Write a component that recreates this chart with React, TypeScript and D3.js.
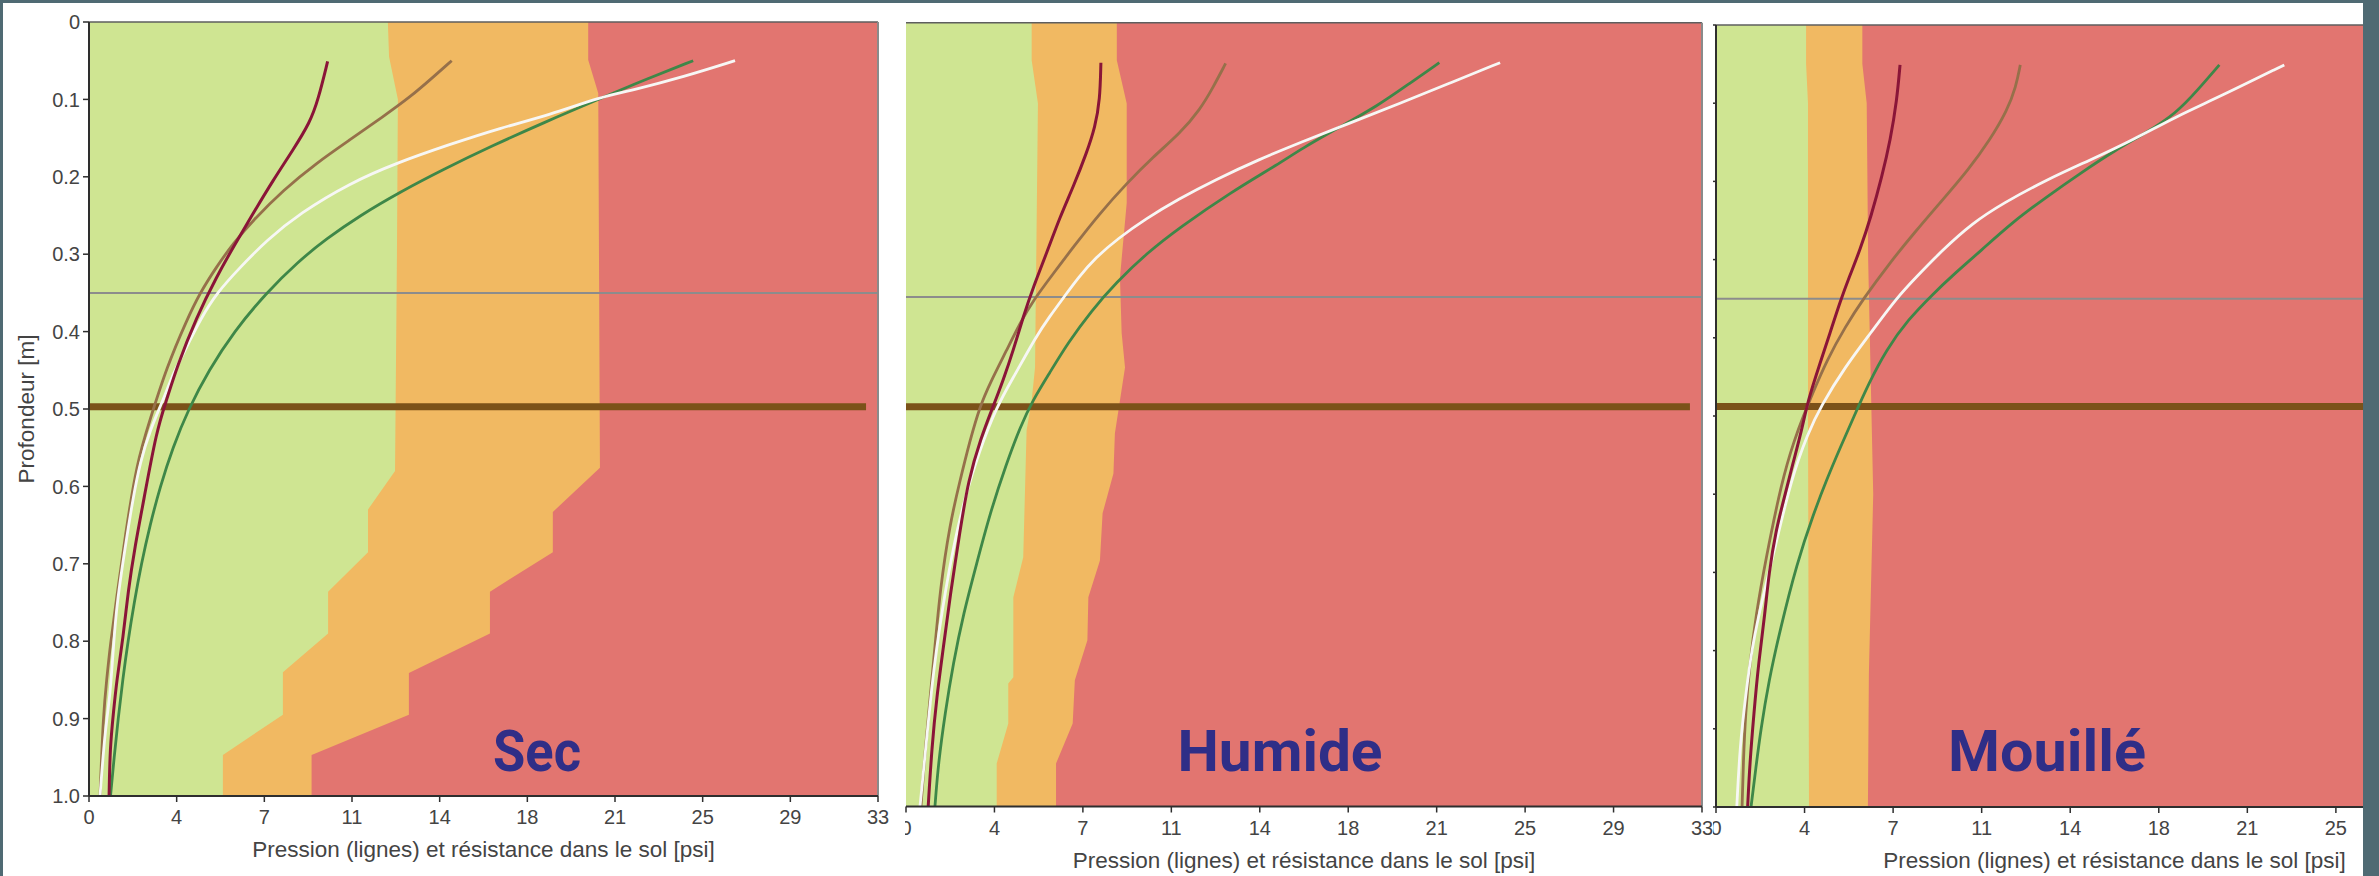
import React from "react";
import * as d3 from "d3";

type Pt = [number, number]; // [pressure psi, depth m]

// ---------- DATA ----------
const xTickLabels = ["0", "4", "7", "11", "14", "18", "21", "25", "29", "33"];
const yTickLabels = ["0", "0.1", "0.2", "0.3", "0.4", "0.5", "0.6", "0.7", "0.8", "0.9", "1.0"];
const conditions = ["Sec", "Humide", "Mouillé"];
const xTitle = "Pression (lignes) et résistance dans le sol [psi]";
const yTitle = "Profondeur [m]";
const X_MAX = 33;
const referenceDepth = 0.35;
const compactionDepth = [0.497, 0.49, 0.488];
const compactionExtent = 32.5;

// Zone boundaries: green/orange and orange/red
const secGreenOrange: Pt[] = [[12.5, 0], [12.55, 0.045], [12.92, 0.1], [12.88, 0.3], [12.8, 0.58], [11.67, 0.63], [11.67, 0.685], [10.0, 0.736], [10.0, 0.79], [8.11, 0.84], [8.11, 0.895], [5.6, 0.947], [5.6, 1.0]];
const secOrangeRed: Pt[] = [[20.88, 0], [20.88, 0.049], [21.3, 0.092], [21.37, 0.576], [19.4, 0.633], [19.4, 0.685], [16.77, 0.736], [16.77, 0.79], [13.38, 0.841], [13.38, 0.895], [9.31, 0.947], [9.31, 1.0]];
const humGreenOrange: Pt[] = [[5.21, 0], [5.21, 0.048], [5.47, 0.103], [5.4, 0.3], [5.35, 0.44], [5.21, 0.482], [5.0, 0.52], [4.86, 0.682], [4.45, 0.733], [4.45, 0.835], [4.24, 0.843], [4.24, 0.894], [3.76, 0.945], [3.76, 1.0]];
const humOrangeRed: Pt[] = [[8.74, 0], [8.74, 0.048], [9.15, 0.103], [9.15, 0.23], [8.87, 0.325], [8.94, 0.396], [9.08, 0.44], [8.87, 0.482], [8.66, 0.524], [8.6, 0.575], [8.15, 0.626], [8.04, 0.686], [7.56, 0.733], [7.52, 0.788], [7.0, 0.839], [6.91, 0.894], [6.22, 0.945], [6.22, 1.0]];
const mouGreenOrange: Pt[] = [[3.73, 0], [3.73, 0.05], [3.81, 0.1], [3.81, 0.5], [3.85, 1.0]];
const mouOrangeRed: Pt[] = [[6.06, 0], [6.06, 0.05], [6.24, 0.1], [6.3, 0.3], [6.51, 0.6], [6.33, 0.83], [6.29, 1.0]];

// Pressure curves
const secCrimson: Pt[] = [[9.98, 0.051], [9.59, 0.1], [9.24, 0.13], [8.54, 0.165], [7.71, 0.204], [6.87, 0.247], [6.03, 0.291], [5.34, 0.329], [4.5, 0.381], [3.67, 0.446], [3.25, 0.488], [2.83, 0.527], [2.27, 0.621], [1.92, 0.678], [1.64, 0.734], [1.43, 0.795], [1.16, 0.85], [1.02, 0.893], [0.88, 0.937], [0.84, 1.0]];
const secBrown: Pt[] = [[15.17, 0.05], [14.4, 0.071], [13.43, 0.097], [12.31, 0.122], [10.92, 0.152], [9.52, 0.182], [8.13, 0.217], [6.87, 0.256], [6.03, 0.286], [5.34, 0.316], [4.64, 0.35], [4.09, 0.385], [3.25, 0.446], [2.55, 0.514], [1.99, 0.57], [1.51, 0.665], [1.16, 0.743], [0.88, 0.807], [0.74, 0.85], [0.6, 0.893], [0.46, 1.0]];
const secWhite: Pt[] = [[27.02, 0.05], [24.86, 0.071], [22.76, 0.088], [21.37, 0.097], [19.28, 0.12], [17.19, 0.137], [15.1, 0.158], [12.87, 0.182], [10.92, 0.208], [8.82, 0.247], [7.43, 0.282], [6.32, 0.317], [5.34, 0.35], [4.64, 0.385], [4.09, 0.42], [3.53, 0.453], [3.11, 0.488], [2.55, 0.527], [2.13, 0.57], [1.85, 0.614], [1.58, 0.665], [1.16, 0.751], [1.02, 0.807], [0.88, 0.872], [0.67, 0.915], [0.46, 1.0]];
const secGreen: Pt[] = [[25.27, 0.05], [23.22, 0.075], [21.3, 0.1], [19.02, 0.13], [16.86, 0.16], [14.85, 0.19], [12.99, 0.22], [11.34, 0.25], [9.93, 0.28], [8.73, 0.31], [7.41, 0.35], [6.06, 0.4], [5.01, 0.45], [4.16, 0.5], [3.5, 0.55], [2.98, 0.6], [2.55, 0.65], [2.19, 0.7], [1.89, 0.75], [1.63, 0.8], [1.41, 0.85], [1.22, 0.9], [1.05, 0.95], [0.9, 1.0]];

const humCrimson: Pt[] = [[8.08, 0.051], [8.04, 0.099], [7.84, 0.133], [7.49, 0.166], [6.94, 0.209], [6.38, 0.248], [5.83, 0.294], [5.28, 0.337], [4.86, 0.375], [4.45, 0.418], [4.03, 0.456], [3.62, 0.489], [3.1, 0.53], [2.58, 0.584], [2.24, 0.648], [1.82, 0.733], [1.55, 0.797], [1.27, 0.861], [1.07, 0.925], [0.92, 1.0]];
const humBrown: Pt[] = [[13.25, 0.052], [12.74, 0.082], [12.19, 0.111], [11.36, 0.141], [10.25, 0.171], [9.15, 0.205], [8.04, 0.243], [6.94, 0.286], [6.11, 0.32], [5.28, 0.354], [4.73, 0.383], [4.17, 0.418], [3.48, 0.46], [3.07, 0.489], [2.65, 0.533], [2.24, 0.584], [1.82, 0.639], [1.41, 0.724], [1.2, 0.797], [1.0, 0.861], [0.8, 0.925], [0.62, 1.0]];
const humWhite: Pt[] = [[24.63, 0.051], [22.55, 0.077], [20.48, 0.103], [18.41, 0.128], [16.4, 0.152], [14.6, 0.175], [12.85, 0.2], [11.3, 0.225], [9.95, 0.25], [8.8, 0.275], [7.85, 0.3], [7.15, 0.325], [6.55, 0.35], [5.95, 0.375], [5.4, 0.4], [4.5, 0.45], [3.75, 0.49], [3.0, 0.55], [2.5, 0.6], [2.1, 0.65], [1.78, 0.7], [1.5, 0.75], [1.26, 0.8], [1.06, 0.85], [0.9, 0.9], [0.74, 0.95], [0.58, 1.0]];
const humGreen: Pt[] = [[22.11, 0.051], [20.9, 0.077], [19.51, 0.107], [17.99, 0.133], [16.33, 0.162], [15.51, 0.179], [13.43, 0.217], [11.36, 0.261], [9.98, 0.294], [8.7, 0.332], [7.7, 0.367], [6.7, 0.409], [5.95, 0.447], [5.25, 0.482], [4.73, 0.516], [4.17, 0.562], [3.48, 0.626], [2.93, 0.69], [2.38, 0.754], [1.96, 0.817], [1.62, 0.881], [1.34, 0.945], [1.2, 1.0]];

const mouCrimson: Pt[] = [[7.62, 0.051], [7.49, 0.096], [7.22, 0.147], [6.87, 0.194], [6.42, 0.245], [5.96, 0.288], [5.52, 0.322], [5.16, 0.352], [4.72, 0.394], [4.26, 0.437], [3.81, 0.48], [3.55, 0.518], [3.19, 0.56], [2.83, 0.604], [2.48, 0.646], [2.19, 0.701], [2.03, 0.752], [1.76, 0.816], [1.57, 0.88], [1.4, 0.944], [1.31, 1.0]];
const mouBrown: Pt[] = [[12.6, 0.051], [12.42, 0.079], [12.06, 0.109], [11.34, 0.147], [10.45, 0.185], [9.37, 0.224], [8.2, 0.266], [7.2, 0.304], [6.1, 0.35], [5.35, 0.386], [4.6, 0.428], [4.0, 0.471], [3.62, 0.5], [3.25, 0.53], [2.73, 0.582], [2.03, 0.688], [1.67, 0.752], [1.4, 0.816], [1.22, 0.88], [1.13, 0.944], [1.08, 1.0]];
const mouWhite: Pt[] = [[23.53, 0.051], [20.84, 0.092], [19.05, 0.117], [17.26, 0.147], [15.47, 0.173], [13.68, 0.198], [11.88, 0.228], [10.63, 0.253], [9.37, 0.288], [8.3, 0.322], [7.45, 0.35], [6.4, 0.394], [5.35, 0.437], [4.35, 0.487], [3.8, 0.522], [3.1, 0.582], [2.45, 0.668], [1.94, 0.731], [1.49, 0.795], [1.22, 0.859], [0.99, 0.923], [0.86, 1.0]];
const mouGreen: Pt[] = [[20.84, 0.051], [19.95, 0.083], [19.05, 0.113], [17.8, 0.138], [16.54, 0.16], [15.11, 0.189], [13.68, 0.22], [12.24, 0.253], [10.99, 0.288], [9.73, 0.322], [9.02, 0.343], [7.94, 0.377], [7.04, 0.416], [6.33, 0.458], [5.72, 0.5], [5.15, 0.54], [4.6, 0.58], [4.05, 0.624], [3.35, 0.688], [2.65, 0.774], [2.19, 0.838], [1.85, 0.902], [1.65, 0.95], [1.45, 1.0]];

const zoneData = [
  [secGreenOrange, secOrangeRed],
  [humGreenOrange, humOrangeRed],
  [mouGreenOrange, mouOrangeRed],
];
const curveData = [
  { brown: secBrown, green: secGreen, white: secWhite, crimson: secCrimson },
  { brown: humBrown, green: humGreen, white: humWhite, crimson: humCrimson },
  { brown: mouBrown, green: mouGreen, white: mouWhite, crimson: mouCrimson },
];

// ---------- LAYOUT / STYLE ----------
const W = 2379;
const H = 876;
const COLORS = {
  frame: "#4f6a73",
  green: "#cfe592",
  orange: "#f1b962",
  red: "#e27570",
  crimson: "#8a1538",
  brown: "#96704a",
  white: "#f7f7f5",
  lineGreen: "#3e8748",
  compaction: "#7b5219",
  refLine: "#8c8c8c",
  axis: "#2e2e2e",
  text: "#444444",
  label: "#2f2e87",
};
const FONT = "'Liberation Sans', Arial, sans-serif";

const panels = [
  { left: 89, right: 878, top: 22, bottom: 796, clipL: 0, clipR: 900, yLabels: true, leftAxis: true, labelX: 537, labelW: 88 },
  { left: 906, right: 1702, top: 22.7, bottom: 806.5, clipL: 905, clipR: 1714, yLabels: false, leftAxis: false, labelX: 1280, labelW: 205 },
  { left: 1716, right: 2513, top: 25, bottom: 807, clipL: 1713, clipR: 2363, yLabels: false, leftAxis: true, labelX: 2047, labelW: 198 },
];

const xTickValues = xTickLabels.map((_, i) => (i * X_MAX) / (xTickLabels.length - 1));
const yTickValues = yTickLabels.map(Number);

function Panel({ idx }: { idx: number }) {
  const p = panels[idx];
  const x = d3.scaleLinear().domain([0, X_MAX]).range([p.left, p.right]);
  const y = d3.scaleLinear().domain([0, 1]).range([p.top, p.bottom]);
  const [b1, b2] = zoneData[idx];
  const curves = curveData[idx];

  const area = d3
    .area<Pt>()
    .y((d) => y(d[1]))
    .x0((d) => x(d[0]))
    .x1(() => x(X_MAX))
    .curve(d3.curveLinear);
  const line = d3
    .line<Pt>()
    .x((d) => x(d[0]))
    .y((d) => y(d[1]))
    .curve(d3.curveBasis);

  const clipId = `clip-${idx}`;
  const plotClipId = `plotclip-${idx}`;
  const visRight = Math.min(p.right, p.clipR);
  const xMid = (p.left + p.right) / 2;
  const visibleTicks = xTickValues
    .map((v, i) => ({ v, label: xTickLabels[i] }))
    .filter((t) => x(t.v) <= p.clipR);

  return (
    <g>
      <defs>
        <clipPath id={clipId}>
          <rect x={p.clipL} y={0} width={p.clipR - p.clipL} height={H} />
        </clipPath>
        <clipPath id={plotClipId}>
          <rect x={p.left} y={p.top} width={visRight - p.left} height={p.bottom - p.top} />
        </clipPath>
      </defs>
      <g clipPath={`url(#${clipId})`}>
        <g clipPath={`url(#${plotClipId})`}>
          <rect x={p.left} y={p.top} width={x(X_MAX) - p.left} height={p.bottom - p.top} fill={COLORS.green} />
          <path d={area(b1) || ""} fill={COLORS.orange} />
          <path d={area(b2) || ""} fill={COLORS.red} />
          <line x1={x(0)} x2={x(X_MAX)} y1={y(referenceDepth)} y2={y(referenceDepth)} stroke={COLORS.refLine} strokeWidth={2} />
          <line x1={x(0)} x2={x(compactionExtent)} y1={y(compactionDepth[idx])} y2={y(compactionDepth[idx])} stroke={COLORS.compaction} strokeWidth={7} />
          <path d={line(curves.brown) || ""} fill="none" stroke={COLORS.brown} strokeWidth={2.8} />
          <path d={line(curves.green) || ""} fill="none" stroke={COLORS.lineGreen} strokeWidth={2.8} />
          <path d={line(curves.white) || ""} fill="none" stroke={COLORS.white} strokeWidth={2.8} />
          <path d={line(curves.crimson) || ""} fill="none" stroke={COLORS.crimson} strokeWidth={3} />
          <text
            x={p.labelX}
            y={770.5}
            textAnchor="middle"
            fontFamily="Roboto, 'Open Sans', sans-serif"
            fontWeight={700}
            fontSize={58}
            fill={COLORS.label}
            textLength={p.labelW}
            lengthAdjust="spacingAndGlyphs"
          >
            {conditions[idx]}
          </text>
        </g>
        {/* frame */}
        <line x1={p.left} x2={visRight} y1={p.top} y2={p.top} stroke="#5e5e5e" strokeWidth={1.6} />
        {p.right <= p.clipR && (
          <line x1={p.right} x2={p.right} y1={p.top} y2={p.bottom} stroke="#8a8a8a" strokeWidth={2} />
        )}
        <line x1={p.left} x2={visRight} y1={p.bottom} y2={p.bottom} stroke={COLORS.axis} strokeWidth={2} />
        {p.leftAxis && (
          <line x1={p.left} x2={p.left} y1={p.top} y2={p.bottom} stroke={COLORS.axis} strokeWidth={2} />
        )}
        {/* x ticks */}
        {visibleTicks.map((t, i) => (
          <g key={`xt${i}`}>
            <line x1={x(t.v)} x2={x(t.v)} y1={p.bottom} y2={p.bottom + 6} stroke={COLORS.axis} strokeWidth={1.5} />
            <text x={x(t.v)} y={p.bottom + 28} textAnchor="middle" fontFamily={FONT} fontSize={20} fill={COLORS.text}>
              {t.label}
            </text>
          </g>
        ))}
        {/* y ticks */}
        {p.leftAxis &&
          yTickValues.map((v, i) => (
            <g key={`yt${i}`}>
              <line x1={p.left - 6} x2={p.left} y1={y(v)} y2={y(v)} stroke={COLORS.axis} strokeWidth={1.5} />
              {p.yLabels && (
                <text x={p.left - 9} y={y(v)} dy="0.36em" textAnchor="end" fontFamily={FONT} fontSize={20} fill={COLORS.text}>
                  {yTickLabels[i]}
                </text>
              )}
            </g>
          ))}
        <text x={xMid} y={p.bottom + 61} textAnchor="middle" fontFamily={FONT} fontSize={22.5} fill={COLORS.text}>
          {xTitle}
        </text>
        {p.yLabels && (
          <text
            transform={`translate(34, ${(p.top + p.bottom) / 2}) rotate(-90)`}
            textAnchor="middle"
            fontFamily={FONT}
            fontSize={22.5}
            fill={COLORS.text}
          >
            {yTitle}
          </text>
        )}
      </g>
    </g>
  );
}

export default function App() {
  return (
    <div style={{ position: "absolute", left: 0, top: 0, width: W, height: H, overflow: "hidden" }}>
      <svg width={W} height={H} viewBox={`0 0 ${W} ${H}`} style={{ display: "block" }}>
        <rect x={0} y={0} width={W} height={H} fill={COLORS.frame} />
        <rect x={3} y={3} width={2360} height={H - 3} fill="#ffffff" />
        {panels.map((_, i) => (
          <Panel key={i} idx={i} />
        ))}
      </svg>
    </div>
  );
}
